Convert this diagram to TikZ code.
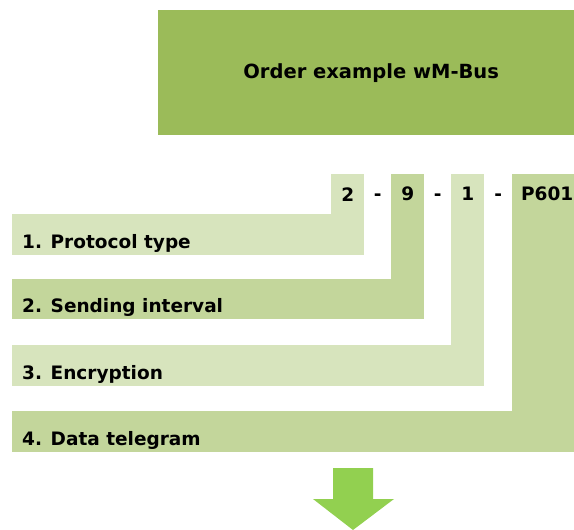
\documentclass[tikz,border=0pt]{standalone}
\usepackage{fontspec}
\setmainfont{DejaVu Sans}
\usetikzlibrary{positioning,calc}
\definecolor{titlegreen}{HTML}{9BBB59}
\definecolor{lightgreen}{HTML}{D7E4BD}
\definecolor{midgreen}{HTML}{C3D69B}
\definecolor{arrowgreen}{HTML}{92D050}
\begin{document}
\begin{tikzpicture}
    [x=1pt, y=-1pt,
     bar/.style={anchor=north west, inner sep=0pt, minimum height=41pt},
     cell/.style={anchor=north west, inner sep=0pt, minimum height=40pt,
       font=\fontsize{18.5}{22}\selectfont\bfseries},
     label text/.style={anchor=base west, inner sep=0pt,
       font=\fontsize{18.5}{22}\selectfont\bfseries},
     sep/.style={anchor=base, inner sep=0pt, font=\fontsize{18.5}{22}\selectfont\bfseries}]
    \useasboundingbox (0, 0) rectangle (574, 530);
    \node[fill=titlegreen, anchor=north west, inner sep=0pt,
      minimum width=416pt, minimum height=125pt,
      font=\fontsize{19.5}{23}\selectfont\bfseries] (title) at (158, 10)
      {\hspace*{10pt}Order example wM-Bus};
    % code cells
    \node[cell, fill=lightgreen, minimum width=33pt] (c2) at (331, 174) {2};
    \node[cell, fill=midgreen, minimum width=33pt] (c9) at (391, 174) {9};
    \node[cell, fill=lightgreen, minimum width=33pt] (c1) at (451, 174) {1};
    \node[cell, fill=midgreen, minimum width=62pt] (cp) at (512, 174) {\hspace*{8pt}P601};
    \node[sep] (d1) at ($(c2.base east)!0.5!(c9.base west)$) {-};
    \node[sep] (d2) at ($(c9.base east)!0.5!(c1.base west)$) {-};
    \node[sep] (d3) at ($(c1.base east)!0.5!(cp.base west)$) {-};
    % bars
    \node[bar, fill=lightgreen, minimum width=352pt] (b1) at (12, 214) {};
    \node[bar, fill=midgreen, minimum width=412pt, minimum height=40pt] (b2) at (12, 279) {};
    \node[bar, fill=lightgreen, minimum width=472pt] (b3) at (12, 345) {};
    \node[bar, fill=midgreen, minimum width=562pt] (b4) at (12, 411) {};
    \fill[midgreen] (c9.south west) rectangle (b2.north east);
    \fill[lightgreen] (c1.south west) rectangle (b3.north east);
    \fill[midgreen] (cp.south west) rectangle (b4.north east);
    \node[label text] (l1) at ([shift={(10, -7)}]b1.south west) {1. Protocol type};
    \node[label text] (l2) at ([shift={(10, -7)}]b2.south west) {2. Sending interval};
    \node[label text] (l3) at ([shift={(10, -7)}]b3.south west) {3. Encryption};
    \node[label text] (l4) at ([shift={(10, -7)}]b4.south west) {4. Data telegram};
    \fill[arrowgreen] (333, 468) -- (373, 468) -- (373, 499) -- (394, 499)
      -- (353, 530) -- (313, 499) -- (333, 499) -- cycle;
  \end{tikzpicture}
\end{document}
